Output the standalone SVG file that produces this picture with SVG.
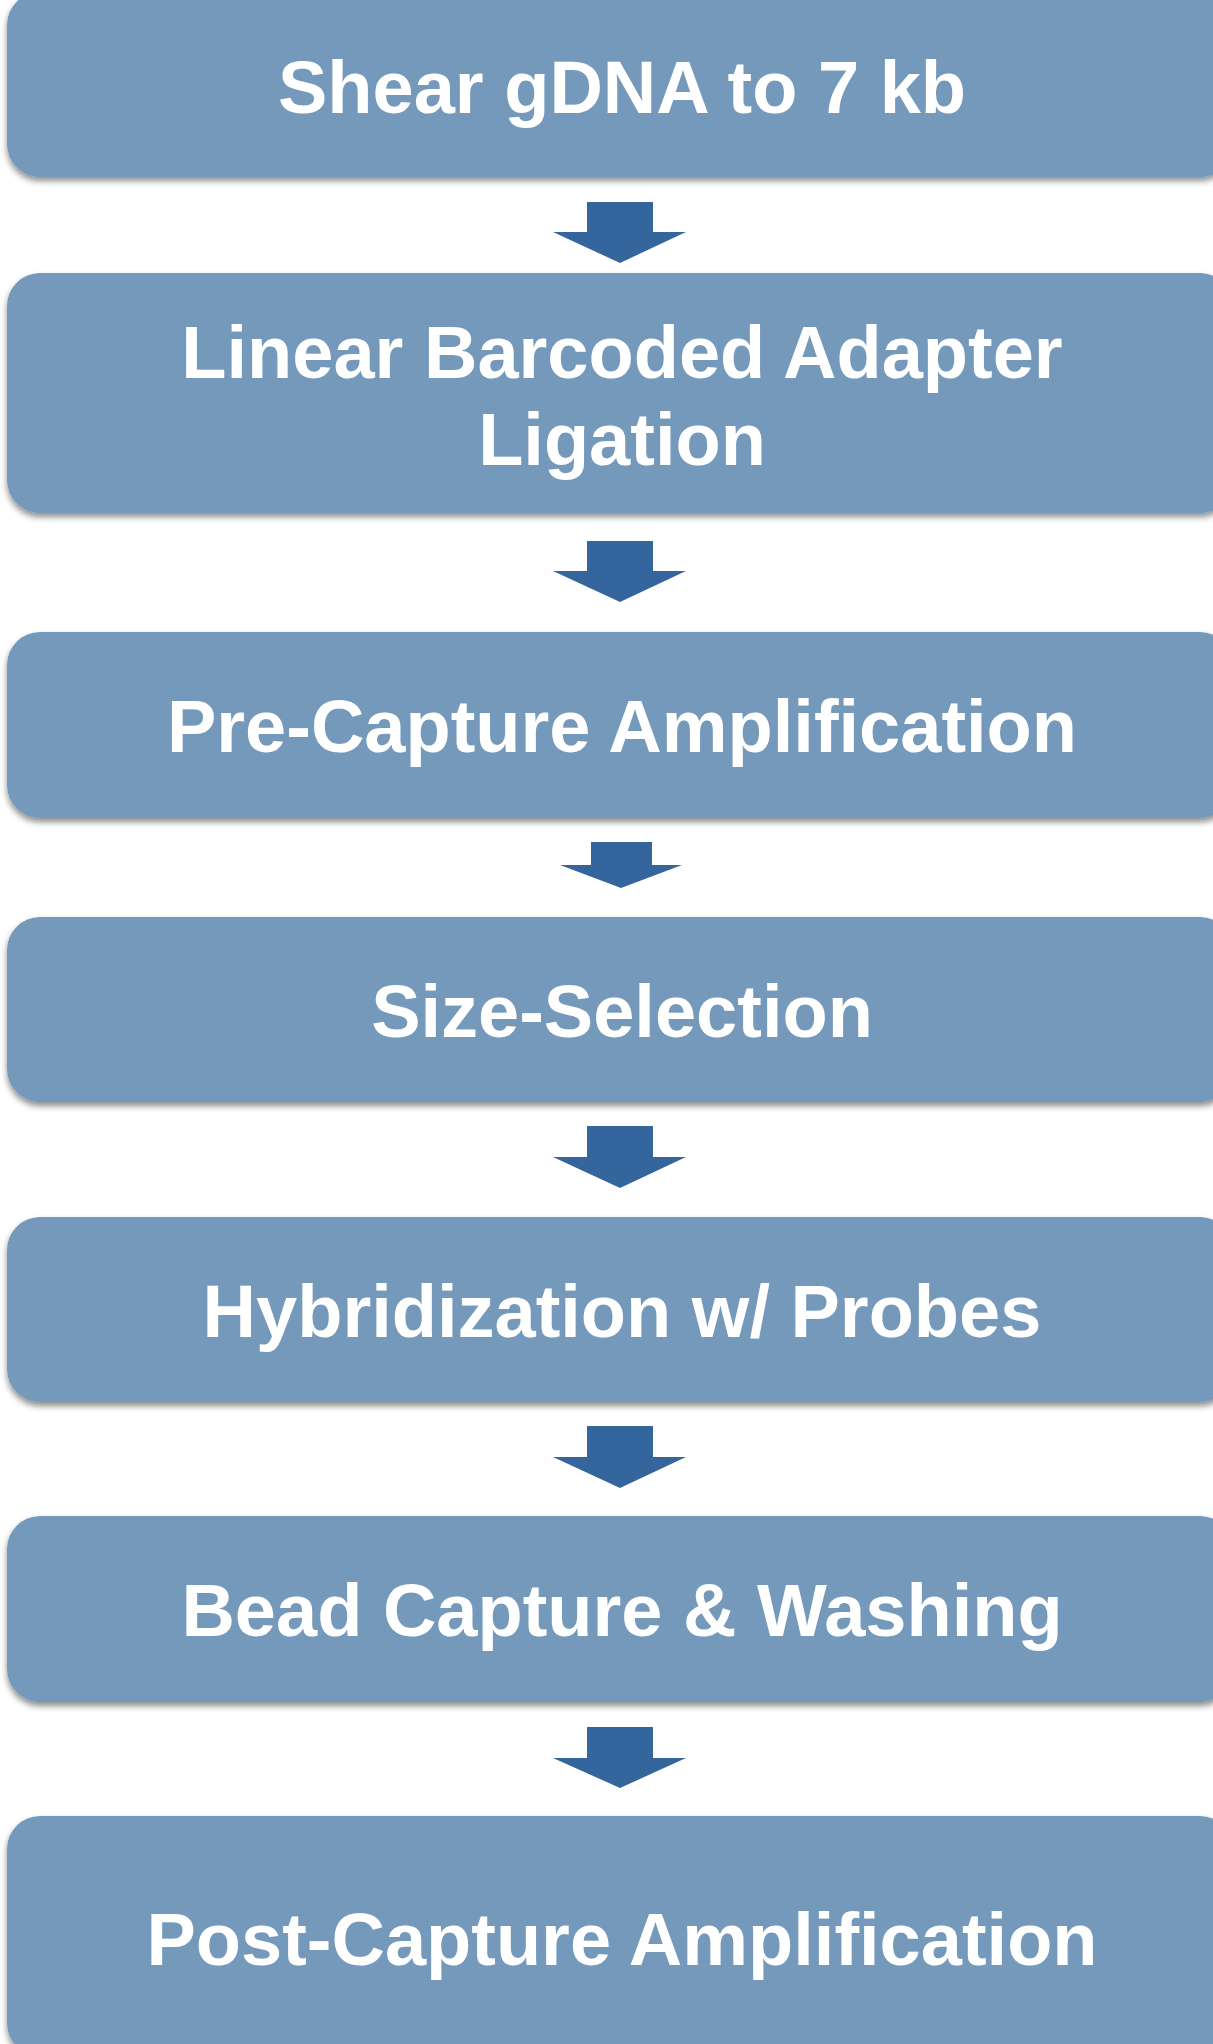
<svg xmlns="http://www.w3.org/2000/svg" width="1213" height="2044" viewBox="0 0 1213 2044">
  <defs>
    <filter id="shadow" x="-5%" y="-10%" width="110%" height="130%">
      <feDropShadow dx="0" dy="4" stdDeviation="3" flood-color="#000000" flood-opacity="0.45"/>
    </filter>
  </defs>
  <style>
    .step rect { fill: #7599BB; filter: url(#shadow); }
    .step text { fill: #FFFFFF; font-family: "Liberation Sans", Arial, sans-serif; font-weight: bold; font-size: 74px; text-anchor: middle; }
    .arrow { fill: #35659D; }
  </style>

  <!-- process steps -->
  <g id="step-shear" class="step">
    <rect x="7" y="-8" width="1226" height="185" rx="33" ry="33"/>
    <text x="622" y="113">Shear gDNA to 7 kb</text>
  </g>
  <g id="step-ligation" class="step">
    <rect x="7" y="273" width="1226" height="240" rx="33" ry="33"/>
    <text x="622" y="378">Linear Barcoded Adapter</text>
    <text x="622" y="465">Ligation</text>
  </g>
  <g id="step-precapture" class="step">
    <rect x="7" y="632" width="1226" height="186" rx="33" ry="33"/>
    <text x="622" y="752">Pre-Capture Amplification</text>
  </g>
  <g id="step-size" class="step">
    <rect x="7" y="917" width="1226" height="185" rx="33" ry="33"/>
    <text x="622" y="1037">Size-Selection</text>
  </g>
  <g id="step-hybrid" class="step">
    <rect x="7" y="1217" width="1226" height="185" rx="33" ry="33"/>
    <text x="622" y="1337">Hybridization w/ Probes</text>
  </g>
  <g id="step-bead" class="step">
    <rect x="7" y="1516" width="1226" height="186" rx="33" ry="33"/>
    <text x="622" y="1636">Bead Capture &amp; Washing</text>
  </g>
  <g id="step-postcapture" class="step">
    <rect x="7" y="1816" width="1226" height="240" rx="33" ry="33"/>
    <text x="622" y="1965">Post-Capture Amplification</text>
  </g>

  <!-- block arrows between steps -->
  <g id="connectors">
    <polygon class="arrow" points="587,202 653,202 653,232 686,232 620,263 553,232 587,232"/>
    <polygon class="arrow" points="587,541 653,541 653,571 686,571 620,602 553,571 587,571"/>
    <polygon class="arrow" points="591,842 652,842 652,865 682,865 621,888 560,865 591,865"/>
    <polygon class="arrow" points="587,1126 653,1126 653,1157 686,1157 620,1188 553,1157 587,1157"/>
    <polygon class="arrow" points="587,1426 653,1426 653,1457 686,1457 620,1488 553,1457 587,1457"/>
    <polygon class="arrow" points="587,1727 653,1727 653,1758 686,1758 620,1788 553,1758 587,1758"/>
  </g>
</svg>
